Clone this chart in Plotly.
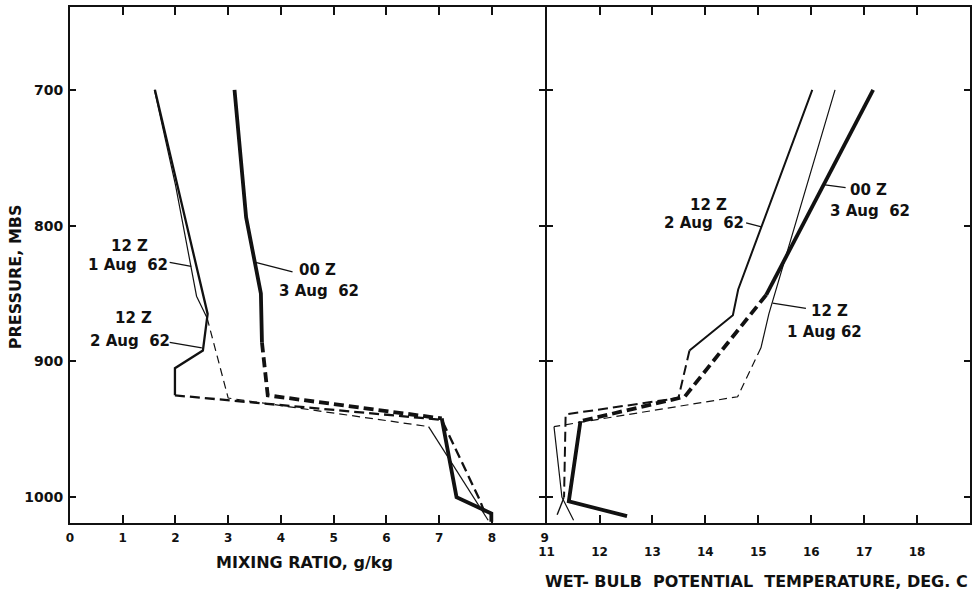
import plotly.graph_objects as go

# ---------------- data ----------------
PRESSURE_TICKS = [700, 800, 900, 1000]
MIX_TICKS = [0, 1, 2, 3, 4, 5, 6, 7, 8, 9]
WBPT_TICKS = [11, 12, 13, 14, 15, 16, 17, 18]

# Mixing ratio (g/kg) vs pressure (mb)
mr_1aug_solid_p = [700, 770, 852, 868]
mr_1aug_solid_v = [1.60, 2.00, 2.40, 2.60]
mr_1aug_dash_p = [868, 927, 948]
mr_1aug_dash_v = [2.60, 3.00, 6.80]
mr_1aug_low_p = [948, 1017]
mr_1aug_low_v = [6.80, 7.93]

mr_2aug_solid_p = [700, 865, 892, 905, 925]
mr_2aug_solid_v = [1.61, 2.61, 2.52, 1.99, 1.99]
mr_2aug_dash_p = [925, 943, 1002, 1013]
mr_2aug_dash_v = [1.99, 7.05, 7.77, 7.88]

mr_3aug_solid_p = [700, 794, 850, 886]
mr_3aug_solid_v = [3.12, 3.34, 3.62, 3.64]
mr_3aug_dash_p = [886, 925, 942]
mr_3aug_dash_v = [3.64, 3.75, 7.05]
mr_3aug_low_p = [942, 1000, 1008, 1012, 1018]
mr_3aug_low_v = [7.05, 7.33, 7.77, 7.99, 7.99]

# Wet-bulb potential temperature (deg C) vs pressure (mb)
wb_1aug_solid_p = [700, 865, 890]
wb_1aug_solid_t = [16.45, 15.20, 15.05]
wb_1aug_dash_p = [890, 926, 948]
wb_1aug_dash_t = [15.05, 14.61, 11.14]
wb_1aug_low_p = [948, 1000, 1017]
wb_1aug_low_t = [11.14, 11.29, 11.51]

wb_2aug_solid_p = [700, 847, 866, 892]
wb_2aug_solid_t = [16.02, 14.62, 14.52, 13.70]
wb_2aug_dash_p = [892, 927, 939, 1000]
wb_2aug_dash_t = [13.70, 13.49, 11.36, 11.33]
wb_2aug_low_p = [1000, 1013]
wb_2aug_low_t = [11.33, 11.20]

wb_3aug_solid_p = [700, 851]
wb_3aug_solid_t = [17.17, 15.15]
wb_3aug_dash_p = [851, 926, 944]
wb_3aug_dash_t = [15.15, 13.61, 11.64]
wb_3aug_low_p = [944, 1003, 1014]
wb_3aug_low_t = [11.64, 11.42, 12.52]

# ---------------- styling ----------------
INK = "#111111"
W_THICK, W_MED, W_THIN = 3.8, 2.3, 1.2
DASH_BIG = "10px,5px"
DASH_SMALL = "8px,5px"
FONT = "DejaVu Sans"

fig = go.Figure()


def seg(x, y, width, dash="solid", panel=1):
    fig.add_trace(go.Scatter(
        x=x, y=y, mode="lines",
        line=dict(color=INK, width=width, dash=dash),
        xaxis="x" if panel == 1 else "x2",
        yaxis="y" if panel == 1 else "y2",
        showlegend=False, hoverinfo="skip",
    ))


# left panel
seg(mr_1aug_solid_v, mr_1aug_solid_p, W_THIN)
seg(mr_1aug_dash_v, mr_1aug_dash_p, W_THIN, DASH_SMALL)
seg(mr_1aug_low_v, mr_1aug_low_p, W_THIN)
seg(mr_2aug_solid_v, mr_2aug_solid_p, W_MED)
seg(mr_2aug_dash_v, mr_2aug_dash_p, W_MED, DASH_BIG)
seg(mr_3aug_solid_v, mr_3aug_solid_p, W_THICK)
seg(mr_3aug_dash_v, mr_3aug_dash_p, W_THICK, DASH_BIG)
seg(mr_3aug_low_v, mr_3aug_low_p, W_THICK)

# right panel
seg(wb_1aug_solid_t, wb_1aug_solid_p, W_THIN, panel=2)
seg(wb_1aug_dash_t, wb_1aug_dash_p, W_THIN, DASH_SMALL, panel=2)
seg(wb_1aug_low_t, wb_1aug_low_p, W_THIN, panel=2)
seg(wb_2aug_solid_t, wb_2aug_solid_p, 2.0, panel=2)
seg(wb_2aug_dash_t, wb_2aug_dash_p, 2.0, DASH_BIG, panel=2)
seg(wb_2aug_low_t, wb_2aug_low_p, 1.4, panel=2)
seg(wb_3aug_solid_t, wb_3aug_solid_p, W_THICK, panel=2)
seg(wb_3aug_dash_t, wb_3aug_dash_p, W_THICK, DASH_BIG, panel=2)
seg(wb_3aug_low_t, wb_3aug_low_p, W_THICK, panel=2)

# ---------------- layout ----------------
L, R, T, B = 70, 1, 7, 68
WIDTH, HEIGHT = 975, 591
PW = WIDTH - L - R
LEFT_END = (546.7 - L) / PW      # so both border lines meet at x ~ 547.7
RIGHT_START = (548.7 - L) / PW

axis_common = dict(
    showgrid=False, zeroline=False, showline=True, linecolor=INK,
    linewidth=2, mirror="ticks", ticks="inside", tickcolor=INK,
    tickwidth=1.5,
)

fig.update_layout(
    width=WIDTH, height=HEIGHT,
    margin=dict(l=L, r=R, t=T, b=B),
    paper_bgcolor="white", plot_bgcolor="white",
    font=dict(family=FONT, color=INK),
    xaxis=dict(domain=[0, LEFT_END], range=[0, 9], tickvals=MIX_TICKS,
               ticklen=8, anchor="y", ticklabelstandoff=3,
               tickfont=dict(size=12, family=FONT, weight="bold"),
               **axis_common),
    xaxis2=dict(domain=[RIGHT_START, 1], range=[11, 19], tickvals=WBPT_TICKS,
                ticklen=8, anchor="y2", ticklabelstandoff=17,
                tickfont=dict(size=12, family=FONT, weight="bold"),
                **axis_common),
    yaxis=dict(range=[1019, 639], tickvals=PRESSURE_TICKS, ticklen=6,
               anchor="x", ticklabelstandoff=2,
               tickfont=dict(size=14, family=FONT, weight="bold"),
               **axis_common),
    yaxis2=dict(range=[1019, 639], tickvals=PRESSURE_TICKS, ticklen=6,
                anchor="x2", showticklabels=False, matches="y",
                **axis_common),
)

LBL = dict(family=FONT, size=15, color=INK, weight="bold")


def text(x, y, s, panel=1):
    fig.add_annotation(x=x, y=y, text=s, showarrow=False, font=LBL,
                       xref="x" if panel == 1 else "x2",
                       yref="y" if panel == 1 else "y2",
                       xanchor="center", yanchor="middle")


def pointer(x0, y0, x1, y1, panel=1):
    fig.add_shape(type="line", x0=x0, y0=y0, x1=x1, y1=y1,
                  xref="x" if panel == 1 else "x2",
                  yref="y" if panel == 1 else "y2",
                  line=dict(color=INK, width=1.3))


# left panel labels
text(1.12, 815, "12 Z")
text(1.10, 829, "1 Aug  62")
pointer(1.89, 827, 2.30, 830)
text(1.21, 868, "12 Z")
text(1.14, 885, "2 Aug  62")
pointer(1.89, 886, 2.50, 890)
text(4.69, 833, "00 Z")
text(4.72, 848, "3 Aug  62")
pointer(4.22, 834, 3.52, 827)

# right panel labels
text(14.05, 785, "12 Z", panel=2)
text(13.98, 798, "2 Aug  62", panel=2)
pointer(14.77, 798, 15.06, 801, panel=2)
text(17.08, 774, "00 Z", panel=2)
text(17.11, 789, "3 Aug  62", panel=2)
pointer(16.65, 772, 16.26, 770, panel=2)
text(16.34, 863, "12 Z", panel=2)
text(16.25, 878, "1 Aug 62", panel=2)
pointer(15.90, 861, 15.27, 857, panel=2)

# axis titles
TITLE = dict(family=FONT, size=16, color=INK, weight="bold")
fig.add_annotation(x=4.45, y=-0.0775, xref="x", yref="paper",
                   text="MIXING RATIO, g/kg", showarrow=False, font=TITLE,
                   xanchor="center", yanchor="middle")
fig.add_annotation(x=14.97, y=-0.114, xref="x2", yref="paper",
                   text="WET- BULB  POTENTIAL  TEMPERATURE, DEG. C",
                   showarrow=False, font=TITLE,
                   xanchor="center", yanchor="middle")
fig.add_annotation(x=-0.061, y=838, xref="paper", yref="y",
                   text="PRESSURE, MBS", showarrow=False, font=TITLE,
                   textangle=-90, xanchor="center", yanchor="middle")

fig.write_html(
    "out.html",
    config={"displayModeBar": False},
    post_script="document.body.style.margin='0px';"
                "document.body.style.overflow='hidden';",
)
